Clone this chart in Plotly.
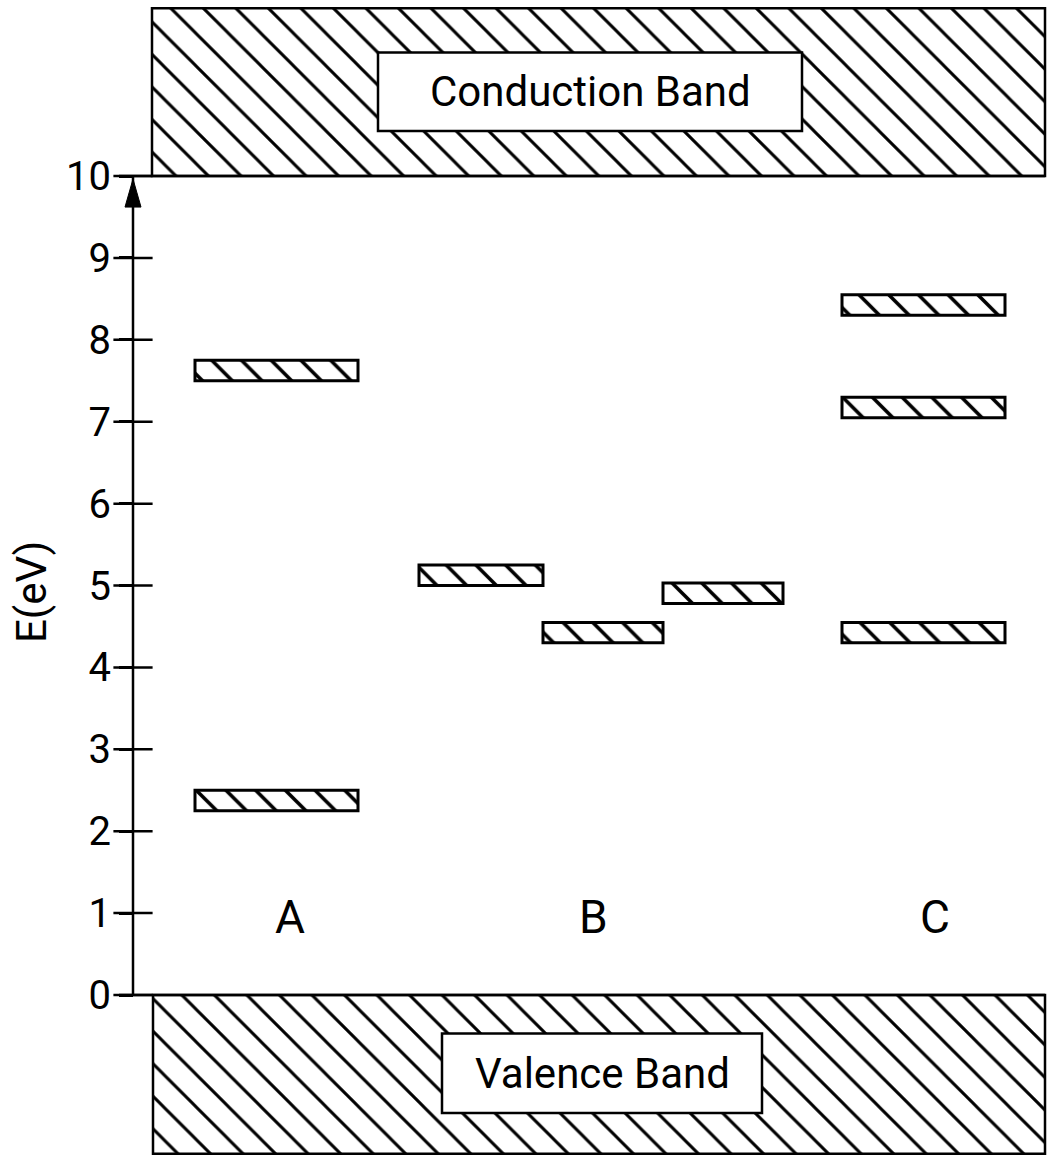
import plotly.graph_objects as go

# ---------------- data ----------------
energy_ticks = [0, 1, 2, 3, 4, 5, 6, 7, 8, 9, 10]
tick_labels = ["0", "1", "2", "3", "4", "5", "6", "7", "8", "9", "10"]

columns = ["A", "B", "C"]
column_x = [1.57, 4.60, 8.02]
column_e = [0.95, 0.95, 0.95]

level_column = ["A", "A", "B", "B", "B", "C", "C", "C"]
level_x_start = [0.62, 0.62, 2.86, 4.10, 5.30, 7.09, 7.09, 7.09]
level_x_end = [2.25, 2.25, 4.10, 5.30, 6.50, 8.72, 8.72, 8.72]
level_e_low = [7.50, 2.25, 5.00, 4.30, 4.78, 8.30, 7.05, 4.30]
level_e_high = [7.75, 2.50, 5.25, 4.55, 5.03, 8.55, 7.30, 4.55]

band_names = ["Conduction Band", "Valence Band"]
band_x_start = [0.19, 0.20]
band_x_end = [9.12, 9.12]
band_e_low = [10.0, -1.94]
band_e_high = [12.05, 0.0]
band_label_box_x = [(2.45, 6.69), (3.09, 6.29)]
band_label_box_e = [(10.55, 11.51), (-1.44, -0.47)]

FONT = "Roboto, DejaVu Sans, sans-serif"

fig = go.Figure()

# bands
fig.add_trace(go.Bar(
    x=[(a + b) / 2 for a, b in zip(band_x_start, band_x_end)],
    width=[b - a for a, b in zip(band_x_start, band_x_end)],
    base=band_e_low,
    y=[h - l for l, h in zip(band_e_low, band_e_high)],
    marker=dict(color="white", line=dict(color="black", width=2.5),
                pattern=dict(shape="\\", size=23, solidity=0.13,
                             fgcolor="black", fgopacity=1, bgcolor="white")),
    hoverinfo="skip", showlegend=False,
))

# defect levels
fig.add_trace(go.Bar(
    x=[(a + b) / 2 for a, b in zip(level_x_start, level_x_end)],
    width=[b - a for a, b in zip(level_x_start, level_x_end)],
    base=level_e_low,
    y=[h - l for l, h in zip(level_e_low, level_e_high)],
    marker=dict(color="white", line=dict(color="black", width=3),
                pattern=dict(shape="\\", size=21, solidity=0.17,
                             fgcolor="black", fgopacity=1, bgcolor="white")),
    hoverinfo="skip", showlegend=False,
))

# band edges at 0 and 10 extending to the axis tick
for e in (0, 10):
    fig.add_trace(go.Scatter(
        x=[-0.14, 9.12], y=[e, e], mode="lines",
        line=dict(color="black", width=2.5),
        hoverinfo="skip", showlegend=False,
    ))

# energy axis line
fig.add_trace(go.Scatter(
    x=[0, 0], y=[energy_ticks[0], energy_ticks[-1]], mode="lines",
    line=dict(color="black", width=2.5),
    hoverinfo="skip", showlegend=False,
))

# inner half of tick marks (cross ticks)
fig.add_trace(go.Scatter(
    x=[0] * len(energy_ticks), y=energy_ticks, mode="markers",
    marker=dict(symbol="line-ew", size=28, line=dict(color="black", width=2.5)),
    hoverinfo="skip", showlegend=False,
))

# arrow head at the top of the energy axis (pixel-sized path anchored at E=10)
fig.add_shape(type="path", xref="x", yref="y",
              xsizemode="pixel", ysizemode="pixel",
              xanchor=0, yanchor=energy_ticks[-1],
              path="M0,-3 L-8,-31 L8,-31 Z",
              fillcolor="black", line=dict(color="black", width=1),
              layer="above")

# label boxes for bands
for name, bx, be in zip(band_names, band_label_box_x, band_label_box_e):
    fig.add_shape(type="rect", xref="x", yref="y", x0=bx[0], x1=bx[1],
                  y0=be[0], y1=be[1], fillcolor="white",
                  line=dict(color="black", width=2.5), layer="above")
    fig.add_annotation(x=(bx[0] + bx[1]) / 2, y=(be[0] + be[1]) / 2,
                       text=name, showarrow=False,
                       font=dict(family=FONT, size=42, color="black"))

# column labels
for c, cx, ce in zip(columns, column_x, column_e):
    fig.add_annotation(x=cx, y=ce, text=c, showarrow=False,
                       font=dict(family=FONT, size=46, color="black"))

# axis title
fig.add_annotation(x=31 / 1047, y=1 - 592 / 1156, xref="paper", yref="paper",
                   xanchor="center", yanchor="middle",
                   text="E(eV)", textangle=-90, showarrow=False,
                   font=dict(family=FONT, size=42, color="black"))

fig.update_layout(
    width=1047, height=1156,
    margin=dict(l=0, r=0, t=0, b=0),
    paper_bgcolor="white", plot_bgcolor="white",
    barmode="overlay",
    xaxis=dict(range=[-1.33, 9.14], visible=False, fixedrange=True),
    yaxis=dict(range=[-1.966, 12.15], anchor="free", position=133 / 1047,
               tickvals=energy_ticks, ticktext=tick_labels,
               ticks="outside", ticklen=14, tickwidth=2.5, tickcolor="black",
               tickfont=dict(family=FONT, size=40, color="black"),
               showline=False, showgrid=False, zeroline=False, fixedrange=True),
)

fig.write_html("out.html", config={"displayModeBar": False},
               post_script="document.body.style.margin='0';")
